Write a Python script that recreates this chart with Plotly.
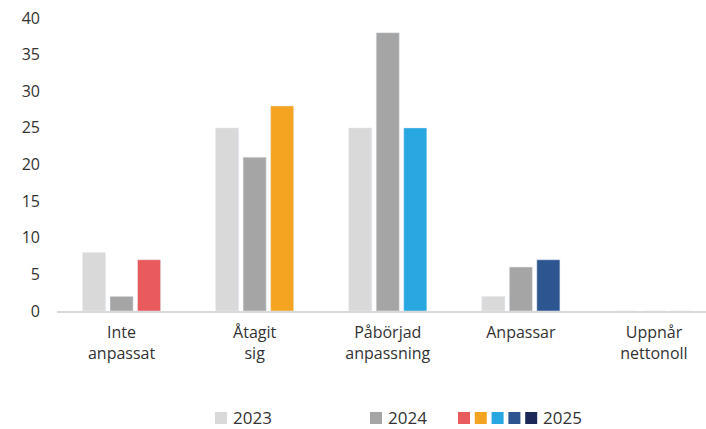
import plotly.graph_objects as go

categories = ["Inte<br>anpassat", "Åtagit<br>sig", "Påbörjad<br>anpassning", "Anpassar", "Uppnår<br>nettonoll"]
values_2023 = [8, 25, 25, 2, 0]
values_2024 = [2, 21, 38, 6, 0]
values_2025 = [7, 28, 25, 7, 0]
colors_2025 = ["#E95A5D", "#F5A422", "#28A7E1", "#2D5690", "#1C2857"]
y_ticks = [0, 5, 10, 15, 20, 25, 30, 35, 40]

FONT = "Open Sans"
TXT = "#333333"

fig = go.Figure()
fig.add_bar(x=categories, y=values_2023, name="2023", marker_color="#D9D9D9", showlegend=False)
fig.add_bar(x=categories, y=values_2024, name="2024", marker_color="#A5A5A5", showlegend=False)
fig.add_bar(x=categories, y=values_2025, name="2025", marker_color=colors_2025, showlegend=False)

fig.update_layout(
    width=706, height=429,
    margin=dict(l=57, r=0, t=18, b=118, autoexpand=False),
    paper_bgcolor="white", plot_bgcolor="white",
    barmode="group", bargap=0.38, bargroupgap=0.16,
    font=dict(family=FONT, size=16, color=TXT),
)
fig.update_xaxes(
    type="category", range=[-0.485, 4.391],
    showline=True, linecolor="#D9D9D9", linewidth=1.5,
    ticks="", showgrid=False, ticklabelstandoff=6,
    tickfont=dict(size=16, color=TXT),
)
fig.update_yaxes(
    range=[0, 40], tickvals=y_ticks, showgrid=False, zeroline=False,
    showline=False, ticks="", ticklabelstandoff=16,
    tickfont=dict(size=16, color=TXT),
)

# custom legend (2025 uses one swatch per category colour)
PW, PH = 649, 293

def px(x):
    return (x - 57) / PW

LY = -107 / PH

def sw(x0, color):
    fig.add_shape(type="rect", xref="paper", yref="paper",
                  x0=x0, x1=x0 + 12 / PW, y0=LY - 6 / PH, y1=LY + 6 / PH,
                  fillcolor=color, line_width=0)

sw(px(215), "#D9D9D9")
sw(px(370), "#A5A5A5")
for i, c in enumerate(colors_2025):
    sw(px(458 + i * 16.8), c)
for xpos, label in [(231, "2023"), (386, "2024"), (541, "2025")]:
    fig.add_annotation(x=px(xpos), y=LY, xref="paper", yref="paper",
                       text=label, showarrow=False, xanchor="left", yanchor="middle",
                       font=dict(size=17, color=TXT, family=FONT))

# remove the browser's default 8px body margin so the figure fills the window
fig.write_html("out.html", config={"displayModeBar": False},
               post_script="document.body.style.margin='0';")
